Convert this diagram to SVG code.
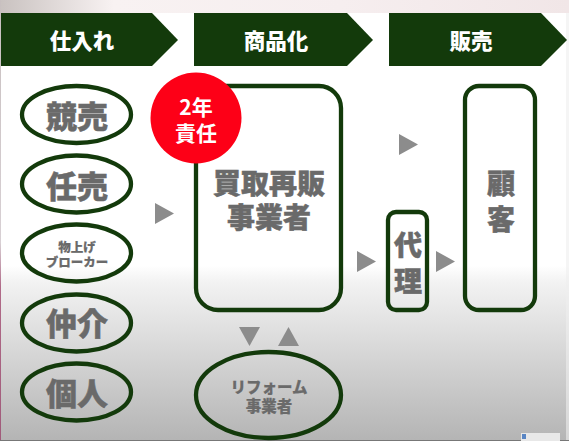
<svg xmlns="http://www.w3.org/2000/svg" width="569" height="441" viewBox="0 0 569 441">
<style>
.hd{fill:#133a0b}
.ol{fill:none;stroke:#133a0b;stroke-width:4.3}
.tri{fill:#8c8c8c}
text{font-family:"Noto Sans CJK JP","Noto Sans CJK SC",sans-serif;text-anchor:middle}
.h{fill:#fff;font-size:21.500px;font-weight:900}
.r{fill:#fff;font-size:21px;font-weight:700}
.g{fill:#6a6a6a;font-weight:900;stroke:#6a6a6a;stroke-width:.5}
.l{font-size:31px}.m{font-size:28px}.s{font-size:12.500px;font-weight:900;stroke-width:.2}.f{font-size:15.500px;font-weight:900;stroke-width:.2}
</style>
<defs>
<linearGradient id="bg" gradientUnits="userSpaceOnUse" x1="0" y1="13" x2="0" y2="441"><stop offset="0" stop-color="#fff"/><stop offset=".59" stop-color="#fff"/><stop offset=".63" stop-color="#f2f2f2"/><stop offset="1" stop-color="#b4b4b4"/></linearGradient>
<linearGradient id="top" x1="0" y1="0" x2="1" y2="0"><stop offset="0" stop-color="#c9c2c0"/><stop offset=".2" stop-color="#f8f2f2"/><stop offset=".6" stop-color="#f6eeef"/><stop offset="1" stop-color="#f1e6e7"/></linearGradient>
<linearGradient id="edge" x1="0" y1="0" x2="0" y2="1"><stop offset="0" stop-color="#c8c0c0"/><stop offset=".55" stop-color="#d8d0d4"/><stop offset=".65" stop-color="#b06a88"/><stop offset="1" stop-color="#a05a7a"/></linearGradient>
</defs>
<rect id="background" width="569" height="441" fill="#fff"/>
<rect x="0" y="13" width="569" height="428" fill="url(#bg)"/>
<rect x="0" y="0" width="569" height="13" fill="url(#top)"/>
<rect x="0" y="0" width="1" height="441" fill="url(#edge)"/>
<rect x="566" y="13" width="3" height="428" fill="#eee" opacity=".6"/>
<rect x="0" y="440" width="569" height="1" fill="#777"/>
<rect x="521" y="433" width="39" height="8" fill="#e8e8e8"/>
<rect x="522" y="434" width="4" height="5" fill="#5a86c4"/>

<g id="connectors">
<polygon class="tri" points="155,203 174,213.500 155,224"/>
<polygon class="tri" points="399,134 418,144.500 399,155"/>
<polygon class="tri" points="357,251 376,261.500 357,272"/>
<polygon class="tri" points="436,251 455,261.500 436,272"/>
<polygon class="tri" points="239,327 260,327 249.500,346"/>
<polygon class="tri" points="278,346 299,346 288.500,327"/>
</g>

<g id="head-shiire"><polygon class="hd" points="1,13 152,13 178,40 152,66 1,66"/><text class="h" x="82" y="49">仕入れ</text></g>
<g id="head-shohinka"><polygon class="hd" points="194,13 347,13 373,40 347,66 194,66"/><text class="h" x="276" y="49">商品化</text></g>
<g id="head-hanbai"><polygon class="hd" points="389,13 541,13 567,40 541,66 389,66"/><text class="h" x="471" y="49">販売</text></g>

<g id="node-kyobai"><ellipse class="ol" cx="76.500" cy="114.500" rx="54.500" ry="28.500"/><text class="g l" x="77" y="128">競売</text></g>
<g id="node-ninbai"><ellipse class="ol" cx="76.500" cy="184" rx="54.500" ry="28.500"/><text class="g l" x="77" y="198">任売</text></g>
<g id="node-broker"><ellipse class="ol" cx="76.500" cy="253" rx="54.500" ry="28.500"/><text class="g s" x="77" y="252">物上げ<tspan x="77" dy="15">ブローカー</tspan></text></g>
<g id="node-chukai"><ellipse class="ol" cx="76.500" cy="323" rx="54.500" ry="28.500"/><text class="g l" x="77" y="335">仲介</text></g>
<g id="node-kojin"><ellipse class="ol" cx="76.500" cy="392" rx="54.500" ry="28.500"/><text class="g l" x="77" y="405">個人</text></g>

<g id="node-kaitori"><rect class="ol" x="196" y="86" width="145" height="224" rx="22"/><text class="g m" x="269" y="194">買取再販<tspan x="269" dy="34">事業者</tspan></text></g>
<g id="badge"><circle cx="196" cy="118" r="45.500" fill="#fd0017"/><text class="r" x="196" y="115">2年<tspan x="196" dy="26">責任</tspan></text></g>
<g id="node-dairi"><rect class="ol" x="388" y="212" width="39" height="98" rx="8"/><text class="g m" x="408" y="256">代<tspan x="408" dy="36">理</tspan></text></g>
<g id="node-kokyaku"><rect class="ol" x="465" y="86" width="70" height="224" rx="14"/><text class="g m" x="501" y="194">顧<tspan x="501" dy="36">客</tspan></text></g>
<g id="node-reform"><ellipse class="ol" cx="268.500" cy="395" rx="72.500" ry="43"/><text class="g f" x="269" y="393">リフォーム<tspan x="269" dy="19">事業者</tspan></text></g>
</svg>
